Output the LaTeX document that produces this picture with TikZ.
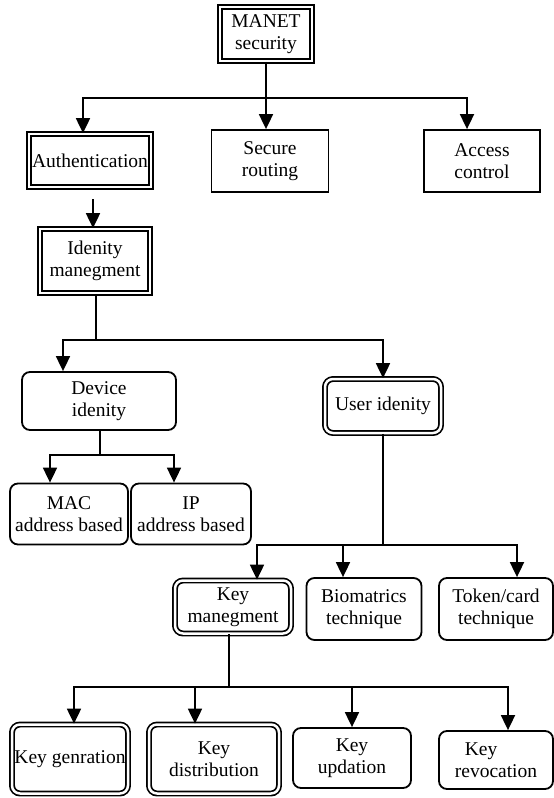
\documentclass[tikz,border=0pt]{standalone}
\usepackage{fontspec}
\setmainfont{Liberation Serif}
\usetikzlibrary{arrows.meta}
\begin{document}
\begin{tikzpicture}[x=1pt,y=-1pt,
  box/.style={draw, line width=1.8pt, align=center, inner sep=0pt,
    font=\fontsize{19.5}{22.5}\selectfont},
  sz/.style n args={2}{minimum width=#1pt, minimum height=#2pt},
  dbox/.style={box, double, double distance=2.5pt, line width=1.7pt},
  rbox/.style={box, rounded corners=8pt},
  rdbox/.style={dbox, rounded corners=8pt},
  conn/.style={line width=1.8pt},
  arr/.style={line width=1.8pt, -{Triangle[width=14pt,length=15pt]}}
]
\useasboundingbox (0,0) rectangle (554,798);

% nodes
\node[dbox, sz={92}{54}] (manet) at (266,34) {MANET\\security};
\node[dbox, sz={122}{53}] (auth) at (90,160.5) {Authentication};
\node[box, sz={117}{62}] (secure) at (270,161) {Secure\\routing};
\node[box, sz={116}{62}] (access) at (482,161) {Access\\control};
\node[dbox, sz={110}{64}] (idm) at (95,261) {Idenity\\manegment};
\node[rbox, sz={154}{58}] (dev) at (99,401) {Device\\idenity};
\node[rdbox, sz={116}{54}] (user) at (383,406) {User idenity};
\node[rbox, sz={118}{61}] (mac) at (69,514) {MAC\\address based};
\node[rbox, sz={120}{61}] (ip) at (191,514) {IP\\address based};
\node[rdbox, sz={116}{53}] (km) at (233,607) {Key\\manegment};
\node[rbox, sz={115}{62}] (bio) at (364,609) {Biomatrics\\technique};
\node[rbox, sz={114}{62}] (tok) at (496,609) {Token/card\\technique};
\node[rdbox, sz={116}{69}] (kg) at (70,759) {Key genration};
\node[rdbox, sz={130}{69}] (kd) at (214,759) {Key\\distribution};
\node[rbox, sz={118}{60}] (ku) at (352,758) {Key\\updation};
\node[rbox, sz={114}{58}, align=left] (kr) at (496,760) {\hspace*{10pt}Key\\revocation};

% bus points
\coordinate (b1) at (266,98);
\coordinate (a1) at (93,199);
\coordinate (b2) at (96,340);
\coordinate (b3) at (100,455);
\coordinate (b4) at (383,545);
\coordinate (b5) at (229,687);

% level 1
\draw[conn] (manet.south) -- (b1);
\draw[arr] (b1) -| ([xshift=-7pt]auth.north);
\draw[arr] (b1) -- (secure.north -| b1);
\draw[arr] (b1) -| ([xshift=-15pt]access.north);
% auth -> identity
\draw[arr] (a1) -- (a1 |- idm.north);
% identity
\draw[conn] (idm.south -| b2) -- (b2);
\draw[arr] (b2) -| ([xshift=-36pt]dev.north);
\draw[arr] (b2) -| (user.north);
% device
\draw[conn] (dev.south -| b3) -- (b3);
\draw[arr] (b3) -| ([xshift=-19pt]mac.north);
\draw[arr] (b3) -| ([xshift=-17pt]ip.north);
% user
\draw[conn] (user.south -| b4) -- (b4);
\draw[arr] (b4) -| ([xshift=24pt]km.north);
\draw[arr] (b4) -| ([xshift=-21pt]bio.north);
\draw[arr] (b4) -| ([xshift=21pt]tok.north);
% key management
\draw[conn] (km.south -| b5) -- (b5);
\draw[arr] (b5) -| ([xshift=4pt]kg.north);
\draw[arr] (b5) -| ([xshift=-19pt]kd.north);
\draw[arr] (b5) -| (ku.north);
\draw[arr] (b5) -| ([xshift=12pt]kr.north);
\end{tikzpicture}
\end{document}
